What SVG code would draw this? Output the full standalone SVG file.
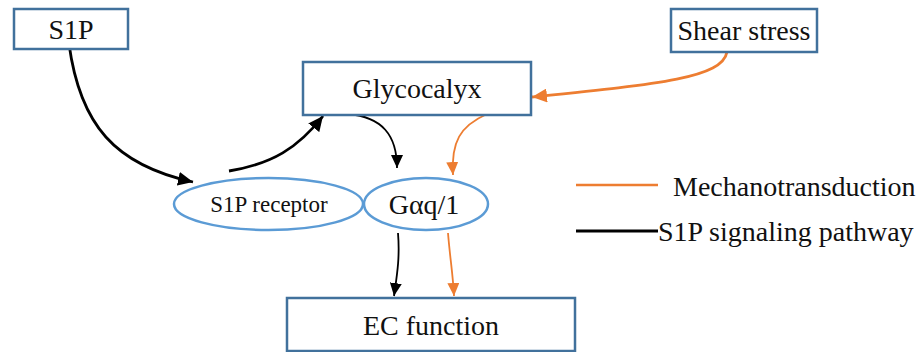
<svg xmlns="http://www.w3.org/2000/svg" width="924" height="352" viewBox="0 0 924 352">
<style>
  .box { fill: #ffffff; stroke: #41719c; stroke-width: 2.5; }
  .ell { fill: #ffffff; stroke: #5b9bd5; stroke-width: 2.5; }
  .lbl { fill: #111111; text-anchor: middle; }
  .t28 { font-size: 28px; }
  .t23 { font-size: 23px; }
  .leg { font-size: 28px; fill: #111111; }
  .blk { fill: none; stroke: #000000; }
  .org { fill: none; stroke: #ed7d31; }
</style>
<defs>
  <marker id="ab" markerUnits="userSpaceOnUse" markerWidth="16" markerHeight="14" refX="15" refY="7" orient="auto">
    <path d="M0,0 L15,7 L0,14 z" fill="#000000"/>
  </marker>
  <marker id="ao" markerUnits="userSpaceOnUse" markerWidth="16" markerHeight="14" refX="15" refY="7" orient="auto">
    <path d="M0,0 L15,7 L0,14 z" fill="#ed7d31"/>
  </marker>
  <marker id="abs" markerUnits="userSpaceOnUse" markerWidth="14" markerHeight="12" refX="13" refY="6" orient="auto">
    <path d="M0,0 L13,6 L0,12 z" fill="#000000"/>
  </marker>
  <marker id="aos" markerUnits="userSpaceOnUse" markerWidth="14" markerHeight="12" refX="13" refY="6" orient="auto">
    <path d="M0,0 L13,6 L0,12 z" fill="#ed7d31"/>
  </marker>
</defs>

<g id="connectors">
  <path class="blk" stroke-width="2.8" d="M69,44 C 80,125 115,165 193,182" marker-end="url(#ab)"/>
  <path class="blk" stroke-width="2.8" d="M229,171 C 272,164 298,148 323,116" marker-end="url(#ab)"/>
  <path class="blk" stroke-width="1.8" d="M348,114 C 382,117 397,135 397,168" marker-end="url(#abs)"/>
  <path class="org" stroke-width="1.8" d="M487,114 C 460,126 451,142 453,175" marker-end="url(#aos)"/>
  <path class="org" stroke-width="2.8" d="M727,52 C 722,78 660,84 532,97" marker-end="url(#ao)"/>
  <path class="blk" stroke-width="1.8" d="M398,233 C 400,258 397,275 394,296" marker-end="url(#abs)"/>
  <path class="org" stroke-width="1.8" d="M448,233 C 450,258 453,275 454,296" marker-end="url(#aos)"/>
</g>

<g font-family="'Liberation Serif', 'Times New Roman', Times, serif">
<g id="s1p">
  <rect class="box" x="14" y="9" width="114" height="40"/>
  <text class="lbl t28" x="71" y="39">S1P</text>
</g>
<g id="shear-stress">
  <rect class="box" x="671" y="9" width="146" height="43"/>
  <text class="lbl t28" x="744" y="40">Shear stress</text>
</g>
<g id="glycocalyx">
  <rect class="box" x="303" y="62" width="228" height="53"/>
  <text class="lbl t28" x="417" y="98">Glycocalyx</text>
</g>
<g id="s1p-receptor">
  <ellipse class="ell" cx="268.5" cy="204" rx="94.5" ry="26"/>
  <text class="lbl t23" x="269" y="212">S1P receptor</text>
</g>
<g id="gaq">
  <ellipse class="ell" cx="426" cy="204" rx="62" ry="26"/>
  <text class="lbl t28" x="424" y="214">Gαq/1</text>
</g>
<g id="ec-function">
  <rect class="box" x="287" y="298" width="288" height="53"/>
  <text class="lbl t28" x="431" y="335">EC function</text>
</g>

<g id="legend">
  <line x1="576" y1="185" x2="658" y2="185" stroke="#ed7d31" stroke-width="2.5"/>
  <text class="leg" x="673" y="196">Mechanotransduction</text>
  <line x1="576" y1="231" x2="658" y2="231" stroke="#000000" stroke-width="3"/>
  <text class="leg" x="658" y="241">S1P signaling pathway</text>
</g>
</g>
</svg>
